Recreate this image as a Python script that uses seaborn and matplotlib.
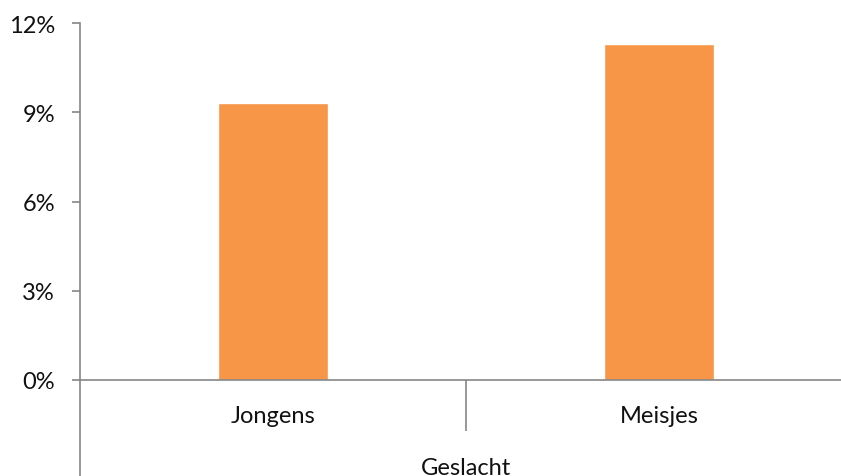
import matplotlib
matplotlib.use("Agg")
import matplotlib.pyplot as plt
import seaborn as sns
import pandas as pd
from matplotlib.ticker import FuncFormatter

categories = ["Jongens", "Meisjes"]
values = [9.3, 11.3]
y_ticks = [0, 3, 6, 9, 12]
x_title = "Geslacht"

df = pd.DataFrame({"cat": categories, "val": values})

sns.set_theme(style="white")
plt.rcParams['font.family'] = ['Lato', 'DejaVu Sans']

fig = plt.figure(figsize=(8.41, 4.77), dpi=100)
ax = fig.add_axes([80/841, 96.3/477, 772/841, 356.4/477])

sns.barplot(data=df, x="cat", y="val", color="#F79646", width=0.287,
            saturation=1, ax=ax)

axis_col = "#868686"
txt_col = "#111111"
ax.set_ylim(0, 12)
ax.set_xlim(-0.5, 1.5)
ax.set_yticks(y_ticks)
ax.yaxis.set_major_formatter(FuncFormatter(lambda v, p: f"{int(v)}%"))
ax.tick_params(axis="y", length=6, width=1.2, color=axis_col, pad=12,
               labelsize=17, labelcolor=txt_col, left=True)
ax.tick_params(axis="x", length=0, pad=18, labelsize=17, labelcolor=txt_col)
ax.set_ylabel("")
ax.set_xlabel("")

for s in ["top", "right"]:
    ax.spines[s].set_visible(False)
for s in ["left", "bottom"]:
    ax.spines[s].set_color(axis_col)
    ax.spines[s].set_linewidth(1.2)

# extended left spine and category separator
ax.plot([0, 0], [0, -0.28], transform=ax.transAxes, color=axis_col,
        lw=1.2, clip_on=False, solid_capstyle="butt")
ax.plot([0.5, 0.5], [0, -0.144], transform=ax.transAxes, color=axis_col,
        lw=1.2, clip_on=False, solid_capstyle="butt")

ax.text(0.5, -0.245, x_title, transform=ax.transAxes, ha="center", va="center",
        fontsize=17, color=txt_col)

fig.savefig("out.png", dpi=100)
